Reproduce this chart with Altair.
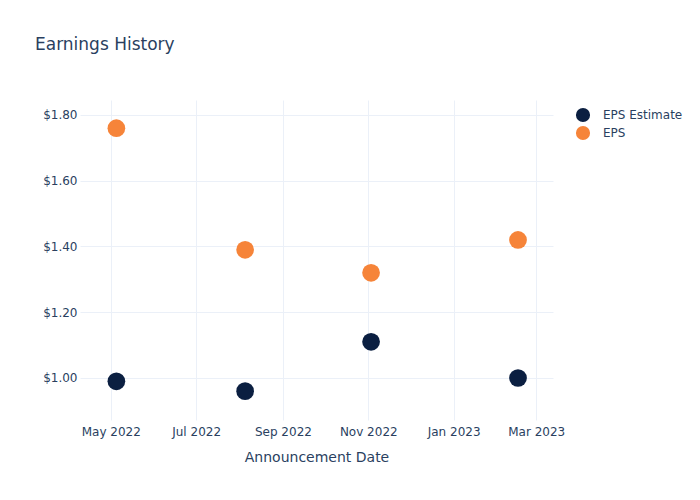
import altair as alt
import pandas as pd

dates = ["2022-05-05", "2022-08-05", "2022-11-03", "2023-02-16"]
eps_estimate = [0.99, 0.96, 1.11, 1.00]
eps_actual = [1.76, 1.39, 1.32, 1.42]
series_names = ["EPS Estimate", "EPS"]
series_colors = ["#0b1f41", "#f68439"]

rows = []
for d, e, a in zip(dates, eps_estimate, eps_actual):
    rows.append({"date": d, "series": "EPS Estimate", "value": e})
    rows.append({"date": d, "series": "EPS", "value": a})
df = pd.DataFrame(rows)

tick_dates = [alt.DateTime(year=y, month=m, date=1, utc=True)
              for y, m in [(2022, 5), (2022, 7), (2022, 9), (2022, 11), (2023, 1), (2023, 3)]]

font = "DejaVu Sans"
txt = "#2a3f5f"
grid = "#ebf0f8"

chart = alt.Chart(df).mark_circle(size=314, opacity=1).encode(
    x=alt.X("date:T", title="Announcement Date",
            scale=alt.Scale(type="utc",
                            domain=[alt.DateTime(year=2022, month=4, date=9, utc=True),
                                    alt.DateTime(year=2023, month=3, date=13, utc=True)]),
            axis=alt.Axis(values=tick_dates,
                          labelExpr="utcFormat(datum.value, '%b %Y')",
                          domain=False, ticks=False, grid=True, gridColor=grid,
                          labelPadding=6, labelFontSize=12, labelColor=txt, labelFont=font,
                          titleFontSize=14, titleColor=txt, titleFont=font, titleFontWeight="normal",
                          titlePadding=13, labelFlush=False)),
    y=alt.Y("value:Q", title=None,
            scale=alt.Scale(domain=[0.8722, 1.8456], nice=False, zero=False),
            axis=alt.Axis(values=[1.0, 1.2, 1.4, 1.6, 1.8], format="$.2f",
                          domain=False, ticks=False, grid=True, gridColor=grid,
                          labelPadding=3, labelFontSize=12, labelColor=txt, labelFont=font)),
    color=alt.Color("series:N",
                    scale=alt.Scale(domain=series_names, range=series_colors),
                    legend=alt.Legend(title=None, orient="none", legendX=495, legendY=7,
                                      symbolType="circle", symbolSize=200, symbolOpacity=1,
                                      labelFontSize=12, labelColor=txt, labelFont=font,
                                      labelOffset=12, rowPadding=2, padding=0)),
).properties(
    width=473, height=320,
    padding={"left": 80, "top": 100, "right": 147, "bottom": 80},
    autosize=alt.AutoSizeParams(type="none"),
    title=alt.TitleParams("Earnings History", anchor="start", frame="group",
                          dx=-45, dy=-42, fontSize=17, color=txt, font=font,
                          fontWeight="normal"),
).configure_view(stroke=None)

chart.save("out.html", embed_options={"renderer": "svg", "actions": False})
